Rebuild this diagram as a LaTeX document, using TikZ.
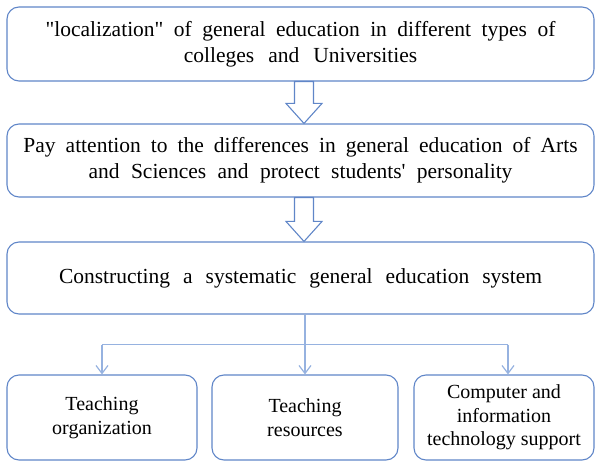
\documentclass[tikz,border=0pt]{standalone}
\usepackage{fontspec}
\setmainfont{Liberation Serif}[Ligatures=TeXOff]
\usetikzlibrary{arrows.meta,calc}
\definecolor{boxblue}{RGB}{96,134,200}
\definecolor{linkblue}{RGB}{150,178,224}
% a line of text with a chosen inter-word space
\newcommand\spaced[2]{{\spaceskip=#1\relax #2}}
\begin{document}
\begin{tikzpicture}[x=1bp,y=-1bp,
  stage/.style={draw=boxblue,line width=1.1bp,rounded corners=12bp,
    minimum width=587bp,inner sep=0pt,align=center,
    font=\fontsize{21.5bp}{26bp}\selectfont},
  leaf/.style={draw=boxblue,line width=1.1bp,rounded corners=12bp,
    minimum height=85bp,inner sep=0pt,align=center,
    font=\fontsize{20bp}{23.5bp}\selectfont},
  blockarrow/.style={draw=boxblue,fill=white,line width=1.1bp,line join=miter},
  link/.style={draw=linkblue,line width=1.2bp},
  linkarrow/.style={link,-{Straight Barb[length=8bp,width=12bp,line width=1.2bp]}}]
\useasboundingbox (0,0) rectangle (596,461);

% main stages
\node[stage,minimum height=74bp] (b1) at (300.5,44)
  {\spaced{10.5bp}{"localization" of general education in different types of}\\
   \spaced{14bp}{colleges and Universities}};
\node[stage,minimum height=73bp] (b2) at (300.5,160.5)
  {\spaced{10bp}{Pay attention to the differences in general education of Arts}\\
   \spaced{11.4bp}{and Sciences and protect students' personality}};
\node[stage,minimum height=72bp] (b3) at (300.5,278)
  {\spaced{13bp}{Constructing a systematic general education system}};

% supporting parts
\node[leaf,minimum width=190bp] (bA) at (102,417.5) {Teaching\\organization};
\node[leaf,minimum width=186bp] (bB) at (305,417.5) {Teaching\\resources};
\node[leaf,minimum width=180bp] (bC) at (504,417.5) {Computer and\\information\\technology support};

% hollow block arrows between the stages
\newcommand\downblock[2]{%
  \path[blockarrow] let \p1=($(#1.south)+(3.5,0)$), \p2=($(#2.north)+(3.5,0)$) in
    (\x1-9.5bp,\y1) -- (\x1+9.5bp,\y1) -- (\x1+9.5bp,\y2+20bp)
    -- (\x1+18bp,\y2+20bp) -- (\x2,\y2) -- (\x1-18bp,\y2+20bp)
    -- (\x1-9.5bp,\y2+20bp) -- cycle;}
\downblock{b1}{b2}
\downblock{b2}{b3}

% branching connector
\coordinate (top) at (bB.north |- b3.south);
\coordinate (fork) at ($(top)+(0,30)$);
\coordinate (cIn) at ($(bC.north)+(4,0)$);
\draw[link] (top) -- (fork);
\draw[link] (bA.north |- fork) -- (cIn |- fork);
\draw[linkarrow] (bA.north |- fork) -- (bA.north);
\draw[linkarrow] (fork) -- (bB.north);
\draw[linkarrow] (cIn |- fork) -- (cIn);
\end{tikzpicture}
\end{document}
